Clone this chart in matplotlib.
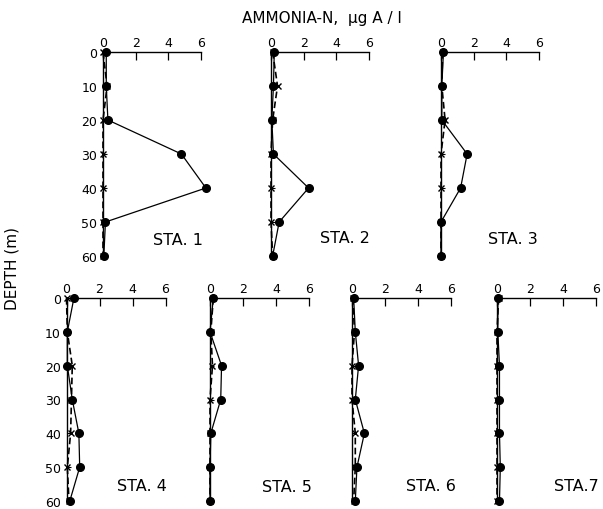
import matplotlib
matplotlib.use("Agg")
import matplotlib.pyplot as plt

depths = [0, 10, 20, 30, 40, 50, 60]
stations = ["STA. 1", "STA. 2", "STA. 3", "STA. 4", "STA. 5", "STA. 6", "STA.7"]

circles = {
    "STA. 1": [0.2, 0.2, 0.3, 4.8, 6.3, 0.15, 0.05],
    "STA. 2": [0.2, 0.15, 0.05, 0.15, 2.3, 0.5, 0.1],
    "STA. 3": [0.15, 0.05, 0.05, 1.6, 1.2, 0.0, 0.0],
    "STA. 4": [0.45, 0.05, 0.05, 0.35, 0.75, 0.8, 0.2],
    "STA. 5": [0.2, 0.0, 0.7, 0.65, 0.05, 0.0, 0.0],
    "STA. 6": [0.1, 0.2, 0.4, 0.2, 0.75, 0.3, 0.2],
    "STA.7": [0.05, 0.05, 0.15, 0.15, 0.15, 0.2, 0.15],
}
crosses = {
    "STA. 1": [0.0, 0.25, 0.0, 0.0, 0.0, 0.0, 0.0],
    "STA. 2": [0.1, 0.4, 0.1, 0.0, 0.0, 0.0, 0.1],
    "STA. 3": [0.1, 0.05, 0.25, 0.0, 0.0, 0.0, 0.0],
    "STA. 4": [0.0, 0.05, 0.35, 0.3, 0.25, 0.05, 0.15],
    "STA. 5": [0.2, 0.05, 0.15, 0.0, 0.0, 0.0, 0.0],
    "STA. 6": [0.05, 0.15, 0.0, 0.0, 0.2, 0.2, 0.1],
    "STA.7": [0.1, 0.0, 0.0, 0.0, 0.0, 0.0, 0.0],
}
xticks = [0, 2, 4, 6]
yticks = [0, 10, 20, 30, 40, 50, 60]

W, H = 603, 510
fig = plt.figure(figsize=(W / 100, H / 100), dpi=100)

# (left px, top px, width px, height px)
boxes = [
    (103, 53, 98, 204), (271, 53, 98, 204), (441, 53, 98, 204),
    (66.5, 299, 99, 203), (210, 299, 99, 203), (352, 299, 99, 203), (497, 299, 99, 203),
]
label_pos = [(4.6, 55.2), (4.5, 54.5), (4.4, 54.8), (4.6, 55.5), (4.65, 55.6), (4.8, 55.5), (4.8, 55.5)]
show_ylabels = [True, False, False, True, False, False, False]

for i, st in enumerate(stations):
    l, t, w, h = boxes[i]
    ax = fig.add_axes([l / W, 1 - (t + h) / H, w / W, h / H])
    ax.plot(crosses[st], depths, color="black", lw=1.2, ls=(0, (4, 2)),
            marker="x", ms=5, mew=1.0, zorder=3)
    ax.plot(circles[st], depths, color="black", lw=0.9, marker="o", ms=5.5,
            mfc="black", mec="black", zorder=4)
    ax.set_xlim(0, 6)
    ax.set_ylim(60, 0)
    for s in ["right", "bottom"]:
        ax.spines[s].set_visible(False)
    ax.spines["top"].set_linewidth(1.0)
    ax.spines["left"].set_linewidth(1.0)
    ax.xaxis.tick_top()
    ax.set_xticks(xticks)
    ax.tick_params(axis="x", direction="in", length=6, width=0.9, pad=2,
                   labelsize=9, top=True, bottom=False)
    ax.set_yticks(yticks)
    ax.tick_params(axis="y", direction="in", length=3, width=0.8, pad=4,
                   labelsize=9, labelleft=show_ylabels[i])
    ax.text(label_pos[i][0], label_pos[i][1], st, ha="center", va="center",
            fontsize=11.5)
    ax.patch.set_alpha(0)
    for ln in ax.lines:
        ln.set_clip_on(False)

fig.text(322 / W, 1 - 18 / H, "AMMONIA-N,  \u03bcg A / l", ha="center", va="center",
         fontsize=11)
fig.text(12 / W, 1 - 268 / H, "DEPTH (m)", ha="center", va="center",
         rotation=90, fontsize=11)

fig.savefig("out.png", dpi=100, facecolor="white")
